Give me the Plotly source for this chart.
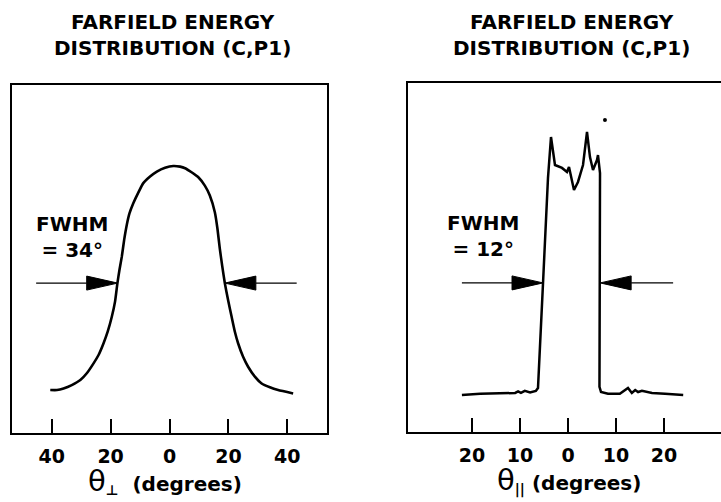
import plotly.graph_objects as go

W, H = 721, 502

# ---------------- data ----------------
# Left panel: perpendicular far-field (degrees, relative intensity)
perp_deg = [-40.5, -38.2, -36.0, -33.2, -30.3, -28.1, -25.8, -24.1, -22.4, -21.0,
            -19.6, -18.5, -17.7, -17.0, -16.2, -15.4, -14.5, -13.6, -12.3, -10.6,
            -8.9, -6.6, -4.3, -1.5, 1.3, 3.6, 5.3, 7.5, 9.8, 12.0, 13.7, 15.4,
            16.3, 17.1, 17.9, 18.8, 19.9, 21.1, 22.2, 23.3, 25.0, 26.7, 29.0,
            31.3, 34.1, 36.9, 42.0]
perp_int = [0.009, 0.009, 0.016, 0.031, 0.053, 0.083, 0.127, 0.164, 0.216, 0.267,
            0.333, 0.400, 0.481, 0.540, 0.599, 0.673, 0.740, 0.790, 0.835, 0.882,
            0.924, 0.953, 0.975, 0.992, 1.0, 0.997, 0.990, 0.972, 0.950, 0.913,
            0.869, 0.795, 0.721, 0.633, 0.558, 0.481, 0.407, 0.333, 0.267, 0.216,
            0.156, 0.112, 0.068, 0.038, 0.021, 0.009, -0.006]

# Right panel: parallel far-field
par_deg = [-22.1, -18.3, -14.2, -11.0, -10.4, -9.8, -9.0, -7.9, -6.7, -6.25,
           -5.2, -4.17, -3.54, -3.13, -2.71, -1.25, -0.21, 0.21, 1.25, 2.08,
           3.13, 3.96, 4.58, 5.21, 6.04, 6.25, 6.67, 6.56, 6.88, 8.33, 10.8,
           12.5, 13.3, 14.0, 14.6, 15.4, 16.7, 17.5, 20.2, 24.0]
par_int = [-0.009, -0.004, -0.002, 0.0, 0.007, 0.0, 0.009, 0.002, 0.009, 0.022,
           0.487, 0.951, 1.133, 1.062, 1.009, 0.996, 0.978, 1.0, 0.898, 0.934,
           1.009, 1.155, 1.044, 0.987, 1.031, 1.053, 0.973, 0.027, 0.004, -0.004, -0.004,
           0.022, 0.0, 0.013, 0.004, 0.009, 0.004, 0.0, -0.004, -0.009]
speck_deg = [7.7]
speck_int = [1.208]

perp_ticks = [-40, -20, 0, 20, 40]
perp_ticktext = ["40", "20", "0", "20", "40"]
par_ticks = [-20, -10, 0, 10, 20]
par_ticktext = ["20", "10", "0", "10", "20"]

# FWHM markers: half-max level, edges, arrow tails
perp_half = 0.482
perp_edges = [-17.6, 18.8]
perp_tails = [-45.3, 43.2]
par_half = 0.487
par_edges = [-5.2, 6.7]
par_tails = [-22.1, 21.9]

title_text = "FARFIELD ENERGY<br>DISTRIBUTION (C,P1)"
FONT = "DejaVu Sans"

def px(x):
    return x / W

def py(y):
    return 1 - y / H

fig = go.Figure()
fig.add_trace(go.Scatter(x=perp_deg, y=perp_int, mode="lines",
                         line=dict(color="black", width=2.6, shape="spline", smoothing=0.4),
                         xaxis="x", yaxis="y", showlegend=False, hoverinfo="skip"))
fig.add_trace(go.Scatter(x=par_deg, y=par_int, mode="lines",
                         line=dict(color="black", width=2.5),
                         xaxis="x2", yaxis="y2", showlegend=False, hoverinfo="skip"))
fig.add_trace(go.Scatter(x=speck_deg, y=speck_int, mode="markers",
                         marker=dict(color="black", size=4),
                         xaxis="x2", yaxis="y2", showlegend=False, hoverinfo="skip"))

axis_common = dict(showgrid=False, zeroline=False, showline=True, linecolor="black",
                   linewidth=2)
tickfont = dict(family=FONT, size=19, color="black", weight="bold")

# pixel geometry of the two boxes
L_x0, L_x1, L_y0, L_y1 = 12, 327, 85, 433
R_x0, R_y0, R_y1 = 408, 83, 432
perp_range = [-53.5, 53.5]
par_range = [-33.33, 31.875]
yl_range = [-0.181, 1.358]
yr_range = [-0.173, 1.372]

fig.update_layout(
    width=W, height=H,
    margin=dict(l=0, r=0, t=0, b=0),
    paper_bgcolor="white", plot_bgcolor="white",
    xaxis=dict(domain=[px(L_x0), px(L_x1)], range=perp_range, mirror=True,
               ticks="inside", ticklen=14, tickwidth=1.6, tickcolor="black",
               tickvals=perp_ticks, ticktext=perp_ticktext, tickfont=tickfont,
               ticklabelstandoff=5, anchor="y", **axis_common),
    yaxis=dict(domain=[py(L_y1), py(L_y0)], range=yl_range, mirror=True,
               showticklabels=False, ticks="", anchor="x", **axis_common),
    xaxis2=dict(domain=[px(R_x0), 1.0], range=par_range, mirror=True,
                ticks="inside", ticklen=14, tickwidth=1.6, tickcolor="black",
                tickvals=par_ticks, ticktext=par_ticktext, tickfont=tickfont,
                ticklabelstandoff=5, anchor="y2", **axis_common),
    yaxis2=dict(domain=[py(R_y1), py(R_y0)], range=yr_range, mirror=False,
                showticklabels=False, ticks="", anchor="x2", **axis_common),
)

shapes = []
annotations = []

def add_arrows(xref, yref, half, edges, tails, deg_per_px, int_per_px):
    head_len = 31 * deg_per_px
    head_h = 7 * int_per_px
    for edge, tail in zip(edges, tails):
        d = 1 if tail < edge else -1
        base = edge - d * head_len
        shapes.append(dict(type="line", xref=xref, yref=yref, x0=tail, x1=base,
                           y0=half, y1=half, line=dict(color="black", width=1.3)))
        shapes.append(dict(type="path", xref=xref, yref=yref,
                           path=f"M {edge},{half} L {base},{half + head_h} L {base},{half - head_h} Z",
                           fillcolor="black", line=dict(color="black", width=1)))

add_arrows("x", "y", perp_half, perp_edges, perp_tails,
           (perp_range[1] - perp_range[0]) / (L_x1 - L_x0),
           (yl_range[1] - yl_range[0]) / (L_y1 - L_y0))
add_arrows("x2", "y2", par_half, par_edges, par_tails,
           (par_range[1] - par_range[0]) / (W - R_x0),
           (yr_range[1] - yr_range[0]) / (R_y1 - R_y0))

txtfont = dict(family=FONT, size=20, color="black", weight="bold")
for cx in (172, 571):
    annotations.append(dict(text=title_text, x=px(cx), y=py(35), xref="paper", yref="paper",
                            xanchor="center", yanchor="middle", showarrow=False,
                            font=txtfont, align="center"))

annotations.append(dict(text="FWHM<br>= 34°", x=px(72), y=py(237), xref="paper", yref="paper",
                        xanchor="center", yanchor="middle", showarrow=False,
                        font=txtfont, align="center"))
annotations.append(dict(text="FWHM<br>= 12°", x=px(483), y=py(236), xref="paper", yref="paper",
                        xanchor="center", yanchor="middle", showarrow=False,
                        font=txtfont, align="center"))

theta = "<span style='font-size:29px;font-weight:normal'>θ</span>"
annotations.append(dict(text=theta + "<sub>⊥</sub>  (degrees)", x=px(165), y=py(500),
                        xref="paper", yref="paper", xanchor="center", yanchor="bottom",
                        showarrow=False, font=txtfont))
annotations.append(dict(text=theta + "<sub>||</sub> (degrees)", x=px(569), y=py(500),
                        xref="paper", yref="paper", xanchor="center", yanchor="bottom",
                        showarrow=False, font=txtfont))

fig.update_layout(shapes=shapes, annotations=annotations)
fig.write_html("out.html")
